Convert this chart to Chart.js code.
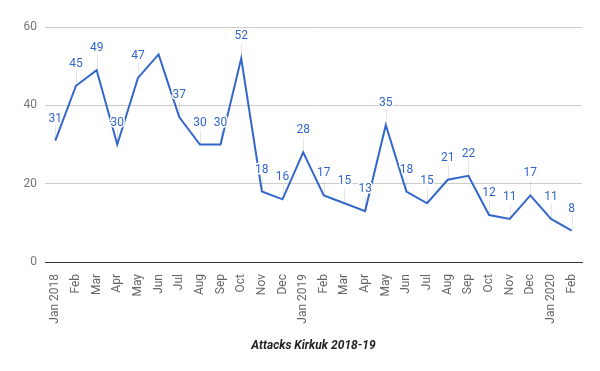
<!DOCTYPE html>
<html>
<head>
<meta charset="utf-8">
<script src="https://cdn.jsdelivr.net/npm/chart.js@4/dist/chart.umd.min.js"></script>
<style>
  html, body { margin: 0; padding: 0; background: #fff; }
  #wrap { width: 600px; height: 371px; }
</style>
</head>
<body>
<div id="wrap"><canvas id="chart" width="600" height="371"></canvas></div>
<script>
// data
const months = ["Jan 2018", "Feb", "Mar", "Apr", "May", "Jun", "Jul", "Aug", "Sep", "Oct", "Nov", "Dec",
  "Jan 2019", "Feb", "Mar", "Apr", "May", "Jun", "Jul", "Aug", "Sep", "Oct", "Nov", "Dec",
  "Jan 2020", "Feb"];
const attacks = [31, 45, 49, 30, 47, 53, 37, 30, 30, 52, 18, 16,
  28, 17, 15, 13, 35, 18, 15, 21, 22, 12, 11, 17,
  11, 8];
const hiddenLabels = [5]; // Jun 2018 has no annotation in the original
const yTicks = [0, 20, 40, 60];
const chartTitle = "Attacks Kirkuk 2018-19";

const lineColor = "#3366cc";

// value annotations with a small leader line, like Google charts
const annotations = {
  id: "annotations",
  afterDatasetsDraw(chart) {
    const ctx = chart.ctx;
    const meta = chart.getDatasetMeta(0);
    ctx.save();
    ctx.font = "12px Roboto";
    ctx.textAlign = "center";
    ctx.textBaseline = "middle";
    meta.data.forEach((pt, i) => {
      if (hiddenLabels.includes(i)) return;
      const x = Math.round(pt.x) + 0.5;
      const ty = pt.y - 22;
      ctx.strokeStyle = "rgba(0,0,0,0.1)";
      ctx.lineWidth = 1;
      ctx.beginPath();
      ctx.moveTo(x, ty + 7);
      ctx.lineTo(x, pt.y - 1);
      ctx.stroke();
      const txt = String(attacks[i]);
      ctx.strokeStyle = "#fff";
      ctx.lineWidth = 3;
      ctx.lineJoin = "round";
      ctx.strokeText(txt, pt.x, ty);
      ctx.fillStyle = lineColor;
      ctx.fillText(txt, pt.x, ty);
    });
    ctx.restore();
  }
};

new Chart(document.getElementById("chart"), {
  type: "line",
  data: {
    labels: months,
    datasets: [{
      data: attacks,
      borderColor: lineColor,
      borderWidth: 2,
      pointRadius: 0,
      tension: 0,
      fill: false
    }]
  },
  options: {
    responsive: false,
    animation: false,
    layout: { padding: { top: 27, right: 18, left: 0, bottom: 18 } },
    plugins: {
      legend: { display: false },
      tooltip: { enabled: false }
    },
    scales: {
      x: {
        offset: true,
        grid: { display: false },
        border: { display: true, color: "#333", width: 1 },
        ticks: {
          autoSkip: false,
          minRotation: 90,
          maxRotation: 90,
          padding: 4,
          color: "#666",
          font: { family: "Roboto", size: 12 }
        },
        title: {
          display: true,
          text: chartTitle,
          color: "#222",
          padding: { top: 4, bottom: 0 },
          font: { family: "Roboto", size: 12, weight: "bold", style: "italic" }
        },
        afterFit(scale) { scale.height = 91; }
      },
      y: {
        min: 0,
        max: 60,
        afterBuildTicks(scale) { scale.ticks = yTicks.map(v => ({ value: v })); },
        grid: {
          color: c => (c.tick && c.tick.value === 0 ? "#333" : "#ccc"),
          drawTicks: false
        },
        border: { display: false },
        ticks: {
          padding: 8,
          color: "#757575",
          font: { family: "Roboto", size: 12 }
        },
        afterFit(scale) { scale.width = 45; }
      }
    }
  },
  plugins: [annotations]
});
</script>
</body>
</html>
